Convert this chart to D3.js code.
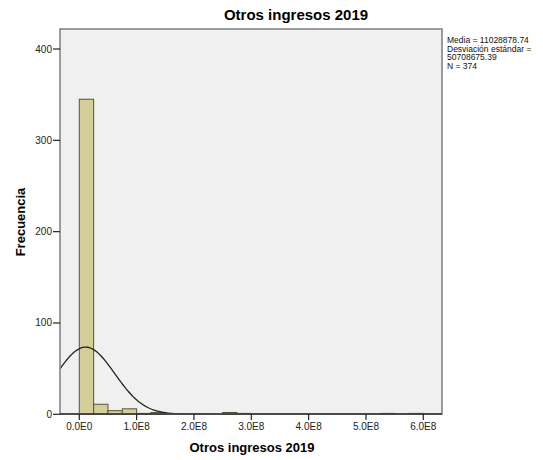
<!DOCTYPE html>
<meta charset="utf-8">
<script src="https://d3js.org/d3.v7.min.js"></script>
<style>
  body { margin: 0; background: #fff; font-family: 'Liberation Sans', Arial, sans-serif; }
  .tick-label { font-size: 10px; fill: #222; }
  .stats { font-family: 'Liberation Sans', Arial, sans-serif; font-size: 8.5px; fill: #111; }
</style>
<div id="chart"></div>
<script>

// histogram bins of 2.5E7 starting at 0
var binWidth = 2.5e7;
var counts = [345, 11, 4, 6, 1, 2, 0, 0, 0, 0, 2, 1,
              0, 0, 0, 0, 0, 0, 0, 0, 0, 1, 0, 1];
var xTicks = [0, 1e8, 2e8, 3e8, 4e8, 5e8, 6e8];
var xTickLabels = ["0.0E0", "1.0E8", "2.0E8", "3.0E8", "4.0E8", "5.0E8", "6.0E8"];
var yTicks = [0, 100, 200, 300, 400];
var media = 11028878.74, desv = 50708675.39, n = 374;
var statsLines = ["Media = 11028878.74", "Desviación estándar =", "50708675.39", "N = 374"];

var W = 543, H = 460;
var frame = {left: 60, right: 442, top: 29, bottom: 414};

var svg = d3.select("#chart").append("svg")
    .attr("width", W).attr("height", H);

var x = d3.scaleLinear().domain([0, 6e8]).range([79.3, 423.3]);
var y = d3.scaleLinear().domain([0, 400]).range([414.3, 49]);

svg.append("rect")
    .attr("x", frame.left).attr("y", frame.top)
    .attr("width", frame.right - frame.left)
    .attr("height", frame.bottom - frame.top)
    .attr("fill", "#f0f0f0");

svg.append("clipPath").attr("id", "clip")
  .append("rect")
    .attr("x", frame.left).attr("y", frame.top)
    .attr("width", frame.right - frame.left)
    .attr("height", frame.bottom - frame.top);

var bins = counts.map(function(c, i) { return {x0: i * binWidth, x1: (i + 1) * binWidth, count: c}; })
    .filter(function(d) { return d.count > 0; });

svg.append("g").selectAll("rect")
    .data(bins)
  .enter().append("rect")
    .attr("x", function(d) { return x(d.x0); })
    .attr("y", function(d) { return y(d.count); })
    .attr("width", function(d) { return x(d.x1) - x(d.x0); })
    .attr("height", function(d) { return y(0) - y(d.count); })
    .attr("fill", "#d4cf98")
    .attr("stroke", "#55543a")
    .attr("stroke-width", 1);

// normal curve
var xs = d3.range(x.invert(frame.left), x.invert(frame.right), 2e6);
var curve = d3.line()
    .x(function(v) { return x(v); })
    .y(function(v) {
      var z = (v - media) / desv;
      return y(n * binWidth / (desv * Math.sqrt(2 * Math.PI)) * Math.exp(-0.5 * z * z));
    });
svg.append("path")
    .datum(xs)
    .attr("clip-path", "url(#clip)")
    .attr("d", curve)
    .attr("fill", "none")
    .attr("stroke", "#222")
    .attr("stroke-width", 1.3);

// frame
svg.append("rect")
    .attr("x", frame.left).attr("y", frame.top)
    .attr("width", frame.right - frame.left)
    .attr("height", frame.bottom - frame.top)
    .attr("fill", "none")
    .attr("stroke", "#7d7d7d")
    .attr("stroke-width", 1.5);
svg.append("line")
    .attr("x1", frame.left).attr("x2", frame.right)
    .attr("y1", frame.bottom).attr("y2", frame.bottom)
    .attr("stroke", "#333").attr("stroke-width", 1.3);

// y axis ticks
var yAxis = svg.append("g");
yAxis.selectAll("line").data(yTicks).enter().append("line")
    .attr("x1", frame.left - 7).attr("x2", frame.left)
    .attr("y1", function(d) { return y(d); }).attr("y2", function(d) { return y(d); })
    .attr("stroke", "#222").attr("stroke-width", 1.2);
yAxis.selectAll("text").data(yTicks).enter().append("text")
    .attr("class", "tick-label")
    .attr("x", frame.left - 8)
    .attr("y", function(d) { return y(d); })
    .attr("dy", "0.35em")
    .style("text-anchor", "end")
    .text(function(d) { return d; });

// x axis ticks
var xAxis = svg.append("g");
xAxis.selectAll("line").data(xTicks).enter().append("line")
    .attr("x1", function(d) { return x(d); }).attr("x2", function(d) { return x(d); })
    .attr("y1", frame.bottom).attr("y2", frame.bottom + 6)
    .attr("stroke", "#222").attr("stroke-width", 1.2);
xAxis.selectAll("text").data(xTicks).enter().append("text")
    .attr("class", "tick-label")
    .attr("x", function(d) { return x(d); })
    .attr("y", 430)
    .style("text-anchor", "middle")
    .text(function(d, i) { return xTickLabels[i]; });

// titles
svg.append("text")
    .attr("x", 296).attr("y", 20)
    .style("text-anchor", "middle")
    .style("font-size", "15px")
    .style("font-weight", "bold")
    .text("Otros ingresos 2019");

svg.append("text")
    .attr("x", 252).attr("y", 452)
    .style("text-anchor", "middle")
    .style("font-size", "13px")
    .style("font-weight", "bold")
    .text("Otros ingresos 2019");

svg.append("text")
    .attr("transform", "rotate(-90)")
    .attr("x", -222).attr("y", 25)
    .style("text-anchor", "middle")
    .style("font-size", "13px")
    .style("font-weight", "bold")
    .text("Frecuencia");

// stats box
svg.append("g").selectAll("text").data(statsLines).enter().append("text")
    .attr("class", "stats")
    .attr("x", 447)
    .attr("y", function(d, i) { return 43 + i * 8.5; })
    .text(function(d) { return d; });

</script>
